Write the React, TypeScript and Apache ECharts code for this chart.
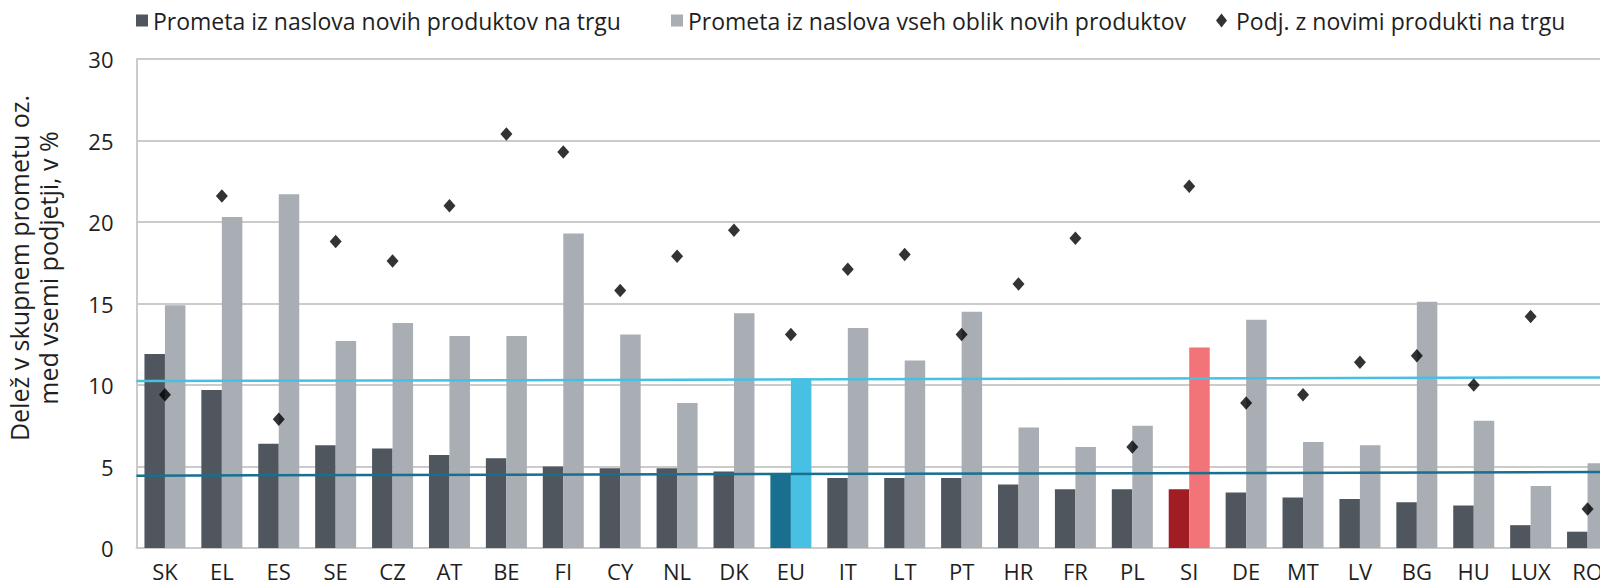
import React, { useEffect, useRef } from "react";
import * as echarts from "echarts";

const categories = ["SK", "EL", "ES", "SE", "CZ", "AT", "BE", "FI", "CY", "NL", "DK", "EU", "IT", "LT", "PT", "HR", "FR", "PL", "SI", "DE", "MT", "LV", "BG", "HU", "LUX", "RO"];
const marketNew = [11.9, 9.7, 6.4, 6.3, 6.1, 5.7, 5.5, 5.0, 4.9, 4.9, 4.7, 4.6, 4.3, 4.3, 4.3, 3.9, 3.6, 3.6, 3.6, 3.4, 3.1, 3.0, 2.8, 2.6, 1.4, 1.0];
const allNew = [14.9, 20.3, 21.7, 12.7, 13.8, 13.0, 13.0, 19.3, 13.1, 8.9, 14.4, 10.4, 13.5, 11.5, 14.5, 7.4, 6.2, 7.5, 12.3, 14.0, 6.5, 6.3, 15.1, 7.8, 3.8, 5.2];
const firmsShare = [9.4, 21.6, 7.9, 18.8, 17.6, 21.0, 25.4, 24.3, 15.8, 17.9, 19.5, 13.1, 17.1, 18.0, 13.1, 16.2, 19.0, 6.2, 22.2, 8.9, 9.4, 11.4, 11.8, 10.0, 14.2, 2.4];
const euLineAll = [10.24, 10.47];
const euLineMarket = [4.44, 4.66];
const yTicks = [0, 5, 10, 15, 20, 25, 30];

const seriesNames = [
  "Prometa iz naslova novih produktov na trgu",
  "Prometa iz naslova vseh oblik novih produktov",
  "Podj. z novimi produkti na trgu",
];
const yName = "Delež v skupnem prometu oz.\nmed vsemi podjetji, v %";

const COLORS = {
  dark: "#4f565d",
  light: "#a9aeb4",
  euDark: "#186f8f",
  euLight: "#48c0e3",
  siDark: "#a11c23",
  siLight: "#f27479",
  grid: "#cbcbcb",
  text: "#1f1f1f",
};
const FONT = "'Open Sans', 'Noto Sans', sans-serif";

export default function App() {
  const ref = useRef<HTMLDivElement>(null);
  useEffect(() => {
    if (!ref.current) return;
    const chart = echarts.init(ref.current, undefined, { renderer: "svg" });
    const colorFor = (cat: string, kind: "dark" | "light") => {
      if (cat === "EU") return kind === "dark" ? COLORS.euDark : COLORS.euLight;
      if (cat === "SI") return kind === "dark" ? COLORS.siDark : COLORS.siLight;
      return kind === "dark" ? COLORS.dark : COLORS.light;
    };
    const legendText = { fontFamily: FONT, fontSize: 23, color: COLORS.text };
    chart.setOption({
      animation: false,
      textStyle: { fontFamily: FONT },
      legend: [
        {
          data: [{ name: seriesNames[0], icon: "rect" }],
          left: 136, top: 9, padding: 0, itemWidth: 12, itemHeight: 12,
          textStyle: legendText, selectedMode: false,
        },
        {
          data: [{ name: seriesNames[1], icon: "rect" }],
          left: 671, top: 9, padding: 0, itemWidth: 12, itemHeight: 12,
          textStyle: legendText, selectedMode: false,
        },
        {
          data: [{ name: seriesNames[2], icon: "diamond" }],
          left: 1216, top: 9, padding: 0, itemWidth: 11, itemHeight: 14,
          textStyle: { ...legendText, padding: [0, 0, 0, 4] }, selectedMode: false,
        },
      ],
      grid: { left: 136.5, right: 0, top: 59, bottom: 39, containLabel: false },
      xAxis: [
        {
          type: "category",
          data: categories,
          axisLine: { show: true, lineStyle: { color: COLORS.grid, width: 2 } },
          axisTick: { show: false },
          axisLabel: { fontFamily: FONT, fontSize: 22, color: COLORS.text, margin: 12 },
        },
        { type: "value", min: 0, max: 1, show: false },
      ],
      yAxis: {
        type: "value",
        min: yTicks[0],
        max: yTicks[yTicks.length - 1],
        interval: 5,
        axisLine: { show: true, lineStyle: { color: COLORS.grid, width: 2 } },
        axisTick: { show: false },
        splitLine: { show: true, lineStyle: { color: COLORS.grid, width: 2 } },
        axisLabel: { fontFamily: FONT, fontSize: 22, color: COLORS.text, margin: 23 },
      },
      graphic: [
        {
          type: "text",
          x: 33,
          y: 268,
          rotation: Math.PI / 2,
          style: {
            text: yName,
            font: `25px ${FONT}`,
            fill: COLORS.text,
            textAlign: "center",
            textVerticalAlign: "middle",
            lineHeight: 29,
          },
        },
      ],
      series: [
        {
          name: seriesNames[0],
          type: "bar",
          barWidth: 20.5,
          barGap: "0%",
          itemStyle: { color: COLORS.dark },
          data: marketNew.map((v, i) => ({ value: v, itemStyle: { color: colorFor(categories[i], "dark") } })),
          z: 2,
        },
        {
          name: seriesNames[1],
          type: "bar",
          barWidth: 20.5,
          barGap: "0%",
          itemStyle: { color: COLORS.light },
          data: allNew.map((v, i) => ({ value: v, itemStyle: { color: colorFor(categories[i], "light") } })),
          z: 2,
        },
        {
          name: "EU vse",
          type: "line",
          xAxisIndex: 1,
          symbol: "none",
          lineStyle: { color: COLORS.euLight, width: 2.5 },
          data: [[0, euLineAll[0]], [1, euLineAll[1]]],
          z: 3,
          silent: true,
        },
        {
          name: "EU trg",
          type: "line",
          xAxisIndex: 1,
          symbol: "none",
          lineStyle: { color: COLORS.euDark, width: 2.5 },
          data: [[0, euLineMarket[0]], [1, euLineMarket[1]]],
          z: 3,
          silent: true,
        },
        {
          name: seriesNames[2],
          type: "scatter",
          symbol: "diamond",
          symbolSize: [12, 13.5],
          itemStyle: { color: "#000000" },
          data: firmsShare,
          z: 4,
        },
      ],
    });
    return () => chart.dispose();
  }, []);
  return (
    <div style={{ position: "absolute", left: 0, top: 0, width: 1600, height: 587, overflow: "hidden", background: "#fff" }}>
      <div ref={ref} style={{ width: 1616, height: 587 }} />
    </div>
  );
}
